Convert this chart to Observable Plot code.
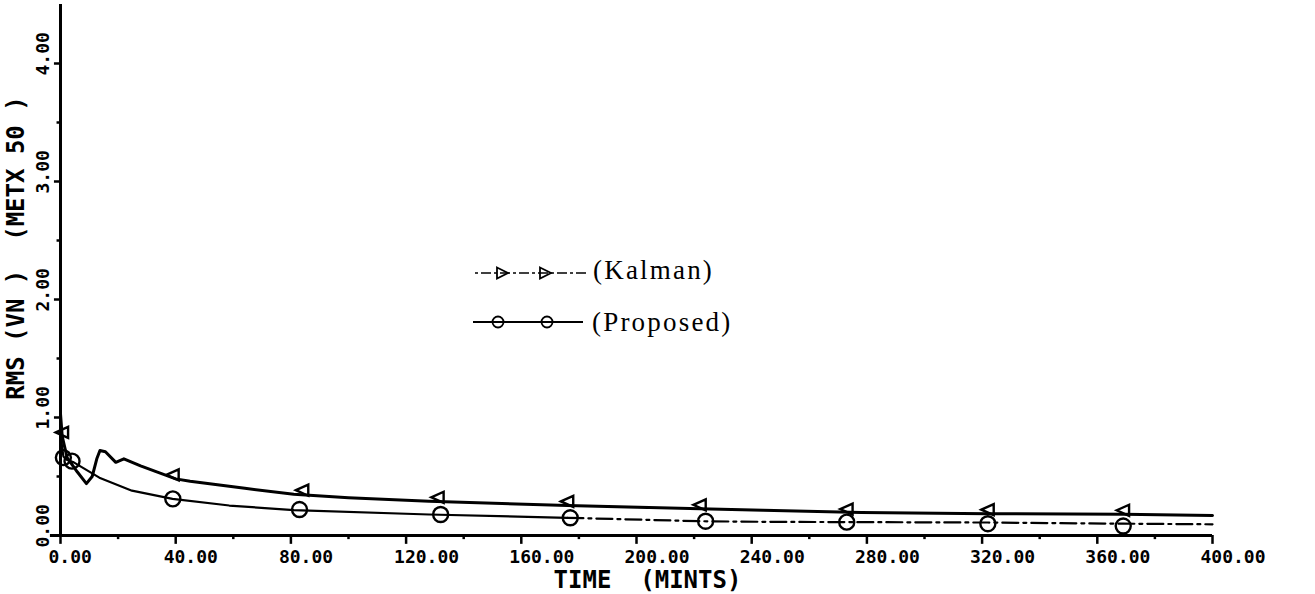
<!DOCTYPE html>
<html>
<head>
<meta charset="utf-8">
<script src="https://cdn.jsdelivr.net/npm/d3@7"></script>
<script src="https://cdn.jsdelivr.net/npm/@observablehq/plot@0.6"></script>
<style>
  html, body { margin: 0; padding: 0; background: #fff; }
  #chart { position: relative; width: 1315px; height: 594px; }
</style>
</head>
<body>
<div id="chart"></div>
<script>
// Axis ticks (minutes on x, RMS in units of 50 m on y)
const xTickValues = [0, 40, 80, 120, 160, 200, 240, 280, 320, 360, 400];
const xMinorValues = [20, 60, 100, 140, 180, 220, 260, 300, 340, 380];
const yTickValues = [0, 1, 2, 3, 4];
const yMinorValues = [0.5, 1.5, 2.5, 3.5];

const xTitle = "TIME  (MINTS)";
const yTitle = "RMS (VN )  (METX 50 )";
const seriesNames = ["(Kalman)", "(Proposed)"];

// Kalman filter RMS error
const kalmanTime = [0, 0.6, 2.3, 5.8, 9.0, 11.0, 12.6, 13.7, 15.6, 19.2, 22.0, 27.8, 40, 45, 64, 81, 100, 128, 176, 222, 244, 278, 322, 369, 400];
const kalmanRms  = [1.03, 0.84, 0.66, 0.54, 0.44, 0.50, 0.65, 0.72, 0.71, 0.62, 0.65, 0.59, 0.48, 0.46, 0.40, 0.35, 0.32, 0.29, 0.255, 0.226, 0.215, 0.195, 0.185, 0.18, 0.17];
const kalmanMarkTime = [0.6, 39, 84, 131, 176, 222, 273, 322, 369];
const kalmanMarkRms  = [0.84, 0.48, 0.35, 0.29, 0.255, 0.226, 0.19, 0.185, 0.18];

// Proposed filter RMS error
const proposedTime = [0, 0.5, 1, 2.3, 4.6, 13.5, 24.8, 38.9, 58.6, 81, 128, 176, 222, 244, 280, 322, 369, 400];
const proposedRms  = [0.93, 0.76, 0.67, 0.64, 0.62, 0.49, 0.38, 0.31, 0.254, 0.215, 0.178, 0.15, 0.121, 0.116, 0.113, 0.11, 0.10, 0.095];
const proposedMarkTime = [1, 4, 39, 83, 132, 177, 224, 273, 322, 369];
const proposedMarkRms  = [0.66, 0.63, 0.31, 0.22, 0.178, 0.15, 0.121, 0.113, 0.10, 0.08];

const zip = (ts, vs) => ts.map((t, i) => ({t, v: vs[i]}));
const kalman = zip(kalmanTime, kalmanRms);
const kalmanMarks = zip(kalmanMarkTime, kalmanMarkRms);
const proposed = zip(proposedTime, proposedRms);
const proposedMarks = zip(proposedMarkTime, proposedMarkRms);

// the proposed trace is plotted solid early on, then broken
const dashFrom = 176;
const proposedSolid = proposed.filter(d => d.t <= dashFrom);
const proposedDashed = proposed.filter(d => d.t >= dashFrom);

// open triangle pointing left
const leftTriangle = {
  draw(ctx, size) {
    const r = Math.sqrt(size / Math.PI);
    ctx.moveTo(-r, 0);
    ctx.lineTo(r * 0.9, -r * 0.85);
    ctx.lineTo(r * 0.9, r * 0.85);
    ctx.closePath();
  }
};

const plotterFont = {fontFamily: "'DejaVu Sans Mono', monospace", fontWeight: "bold", fill: "#000"};

const chart = Plot.plot({
  width: 1315,
  height: 594,
  marginTop: 4,
  marginBottom: 59,
  marginLeft: 60,
  marginRight: 103,
  x: {domain: [0, 400], axis: null},
  y: {domain: [0, 4.5], axis: null},
  style: {background: "#fff", overflow: "visible"},
  marks: [
    // axes lines and ticks
    Plot.ruleY([0], {x1: -3.5, x2: 400, stroke: "#000", strokeWidth: 3}),
    Plot.ruleX([0], {y1: 0, y2: 4.5, stroke: "#000", strokeWidth: 3}),
    Plot.ruleX(xTickValues, {x: d => d, y1: 0, y2: -0.075, stroke: "#000", strokeWidth: 2.5}),
    Plot.ruleX(xMinorValues, {x: d => d, y1: 0, y2: -0.035, stroke: "#000", strokeWidth: 2.5}),
    Plot.ruleY(yTickValues, {y: d => d, x1: 0, x2: -2.1, stroke: "#000", strokeWidth: 2.5}),
    Plot.ruleY(yMinorValues, {y: d => d, x1: 0, x2: -1.2, stroke: "#000", strokeWidth: 2.5}),
    // tick labels
    Plot.text(xTickValues, {
      x: d => d, y: 0, text: d => d.toFixed(2),
      textAnchor: "start", lineAnchor: "bottom", dx: -12, dy: 27,
      fontSize: 18, ...plotterFont
    }),
    Plot.text(yTickValues, {
      x: 0, y: d => d, text: d => d.toFixed(2), rotate: -90,
      textAnchor: "start", lineAnchor: "bottom", dx: -12, dy: 12,
      fontSize: 18, ...plotterFont
    }),
    // axis titles
    Plot.text([xTitle], {
      text: d => d, frameAnchor: "bottom", lineAnchor: "bottom",
      dx: 11, dy: 52, fontSize: 24, ...plotterFont
    }),
    Plot.text([yTitle], {
      text: d => d, frameAnchor: "left", rotate: -90, lineAnchor: "bottom",
      textAnchor: "middle", dx: -37, dy: -22, fontSize: 24, ...plotterFont
    }),
    // series
    Plot.line(kalman, {x: "t", y: "v", stroke: "#000", strokeWidth: 3}),
    Plot.line(proposedSolid, {x: "t", y: "v", stroke: "#000", strokeWidth: 2.2}),
    Plot.line(proposedDashed, {x: "t", y: "v", stroke: "#000", strokeWidth: 2.2, strokeDasharray: "16,5,3,5"}),
    Plot.dot(kalmanMarks, {x: "t", y: "v", symbol: leftTriangle, r: 6.5, dy: -4, fill: "none", stroke: "#000", strokeWidth: 2.4}),
    Plot.dot(proposedMarks, {x: "t", y: "v", r: 7.5, fill: "none", stroke: "#000", strokeWidth: 2.4})
  ]
});

document.getElementById("chart").appendChild(chart);

// legend, drawn inside the plot area
const svg = d3.select(chart);
const legend = svg.append("g").attr("class", "series-legend").attr("text-anchor", "start");
const legendFont = "'Liberation Serif', 'Times New Roman', serif";

// Kalman entry
const k = legend.append("g");
k.append("line").attr("x1", 475).attr("x2", 587).attr("y1", 273).attr("y2", 273)
  .attr("stroke", "#000").attr("stroke-width", 1.6).attr("stroke-dasharray", "3,3,10,3");
[502, 545].forEach(cx => {
  k.append("path").attr("d", `M${cx - 5},${273 - 5.5}L${cx + 6},273L${cx - 5},${273 + 5.5}Z`)
    .attr("fill", "none").attr("stroke", "#000").attr("stroke-width", 1.8);
});
k.append("text").attr("x", 593).attr("y", 279).attr("text-anchor", "start").text(seriesNames[0])
  .attr("font-family", legendFont).attr("font-size", 27).attr("letter-spacing", 2.2).attr("fill", "#000");

// Proposed entry
const p = legend.append("g");
p.append("line").attr("x1", 473).attr("x2", 583).attr("y1", 322).attr("y2", 322)
  .attr("stroke", "#000").attr("stroke-width", 1.8);
[498, 547].forEach(cx => {
  p.append("circle").attr("cx", cx).attr("cy", 322).attr("r", 5.5)
    .attr("fill", "none").attr("stroke", "#000").attr("stroke-width", 1.8);
});
p.append("text").attr("x", 592).attr("y", 331).attr("text-anchor", "start").text(seriesNames[1])
  .attr("font-family", legendFont).attr("font-size", 27).attr("letter-spacing", 2.2).attr("fill", "#000");
</script>
</body>
</html>
